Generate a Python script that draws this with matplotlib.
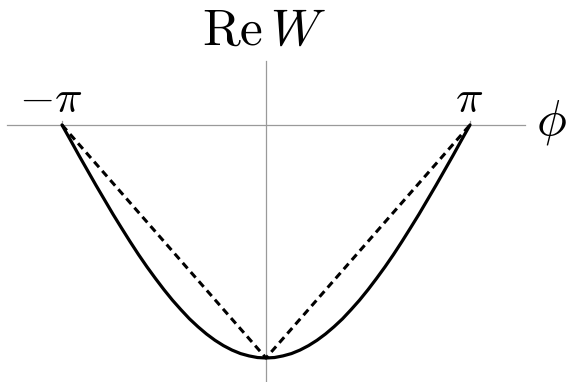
import numpy as np
import matplotlib
matplotlib.use("Agg")
from matplotlib import pyplot as plt

plt.rcParams["mathtext.fontset"] = "cm"

# solid curve, right half (phi = 0 .. pi in steps of pi/24);
# the curve is symmetric so the left half is the mirror image
half_steps = np.arange(0, 25)
half_depth = np.array([1.000, 0.998, 0.991, 0.981, 0.966, 0.947, 0.924, 0.897,
                       0.866, 0.832, 0.793, 0.752, 0.707, 0.659, 0.609, 0.556,
                       0.500, 0.442, 0.383, 0.321, 0.259, 0.195, 0.131, 0.065, 0.000])

phi = np.pi * np.concatenate([-half_steps[::-1], half_steps[1:]]) / 24
re_w = -np.concatenate([half_depth[::-1], half_depth[1:]])

# dashed V
v_phi = [-np.pi, 0.0, np.pi]
v_re = [0.0, -1.0, 0.0]

tick_pos = [-np.pi, np.pi]
tick_labels = [r"$-\pi$", r"$\pi$"]

x_axis = [-3.988, 3.988]
y_axis = [-1.10, 0.275]

fig = plt.figure(figsize=(5.66, 3.82), dpi=100)
ax = fig.add_axes([0, 0, 1, 1])
ax.set_xlim(-4.096, 4.620)
ax.set_ylim(-1.103, 0.536)
ax.axis("off")

grey = "#9a9a9a"
ax.plot(x_axis, [0, 0], color=grey, lw=0.9)
ax.plot([0, 0], y_axis, color=grey, lw=0.9)
for t in tick_pos:
    ax.plot([t, t], [0, 0.018], color=grey, lw=0.9)

ax.plot(phi, re_w, color="black", lw=2.3, solid_capstyle="round", solid_joinstyle="round")
ax.plot(v_phi, v_re, color="black", lw=2.2, ls=(0, (2.4, 1.6)))

ax.annotate(tick_labels[0], (tick_pos[0], 0), xytext=(-11.5, 13),
            textcoords="offset pixels", ha="center", va="baseline", fontsize=33)
ax.annotate(tick_labels[1], (tick_pos[1], 0), xytext=(-1, 13),
            textcoords="offset pixels", ha="center", va="baseline", fontsize=33)
ax.annotate(r"$\phi$", (x_axis[1], 0), xytext=(26, -10),
            textcoords="offset pixels", ha="center", va="baseline", fontsize=36)
ax.annotate(r"$\mathrm{Re}\,W$", (0, y_axis[1]), xytext=(-2, 16),
            textcoords="offset pixels", ha="center", va="baseline", fontsize=37)

fig.savefig("out.png", dpi=100)
